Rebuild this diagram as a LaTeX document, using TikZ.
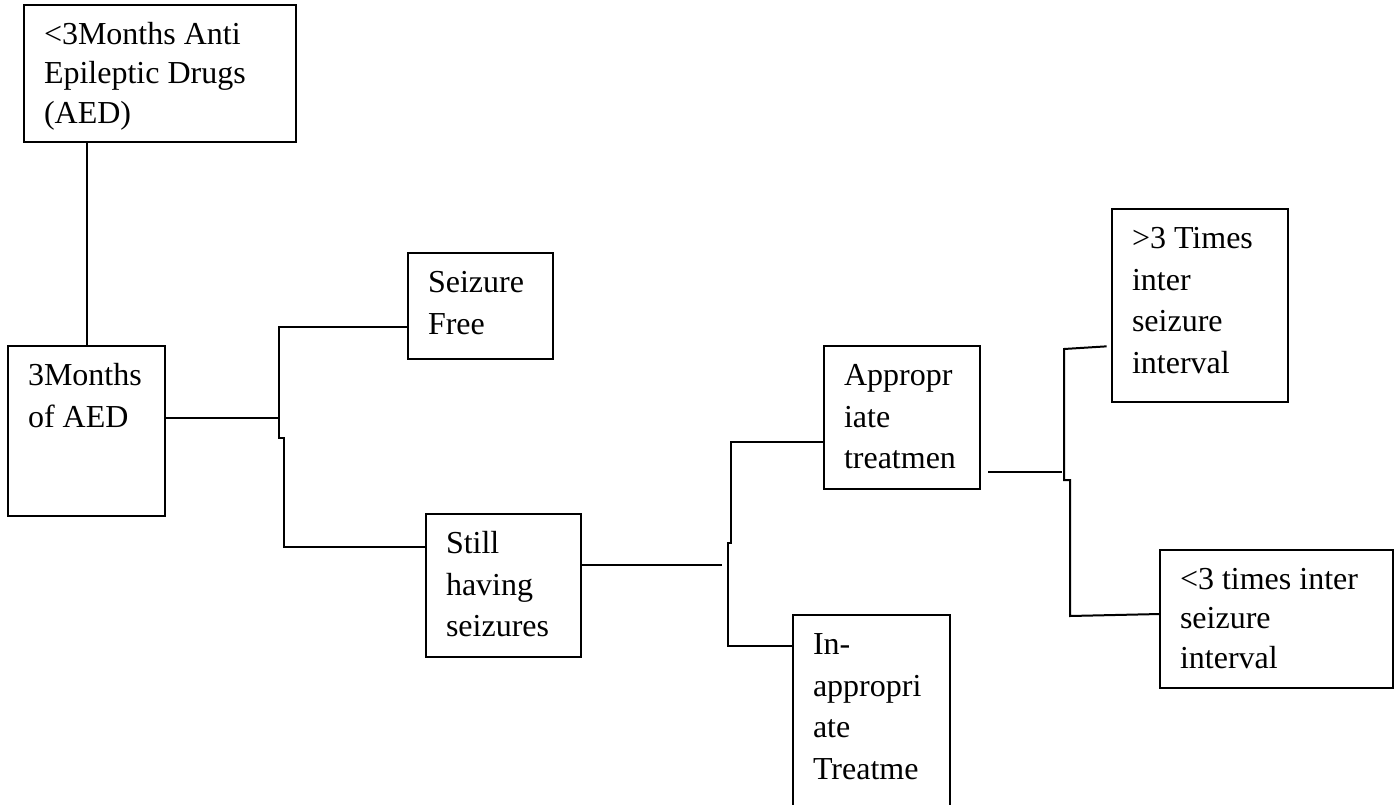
\documentclass[tikz,border=0pt]{standalone}
\usepackage{fontspec}
\setmainfont{Liberation Serif}
\usepackage{tikz}

\begin{document}
\begin{tikzpicture}[
  x=0.375pt, y=-0.375pt,
  box/.style={draw, line width=0.75pt, anchor=north west, align=flush left, inner xsep=7.5pt, inner ysep=0pt, outer sep=0pt, text height=14.8pt, font=\fontsize{12pt}{15.6pt}\selectfont},
  tight/.style={font=\fontsize{12pt}{14.8pt}\selectfont},
  link/.style={line width=0.75pt}
]
  \useasboundingbox (0,0) rectangle (1399,805);
  \clip (0,0) rectangle (1399,805);

  \node[box, tight, text width=87pt, text depth=36.6pt] (aed) at (24,5) {<3Months Anti\\Epileptic Drugs\\(AED)};
  \node[box, text width=44pt, text depth=48.9pt] (three) at (8,346) {3Months\\of AED};
  \node[box, text width=39.5pt, text depth=24.9pt] (free) at (408,253) {Seizure\\Free};
  \node[box, text width=43pt, text depth=38.8pt] (still) at (426,514) {Still\\having\\seizures};
  \node[box, text width=43.5pt, text depth=38.8pt] (approp) at (824,346) {Appropr\\iate\\treatmen};
  \node[box, text width=44pt, text depth=60.2pt] (inapp) at (793,615) {In-\\appropri\\ate\\Treatme};
  \node[box, text width=51pt, text depth=57.6pt] (gt3) at (1112,209) {>3 Times\\inter\\seizure\\interval};
  \node[box, tight, text width=72.4pt, text depth=36.9pt] (lt3) at (1160,550) {<3 times inter\\seizure\\interval};

  \draw[link] (three.north) -- (three.north |- aed.south);

  \coordinate (fork1) at (279,418);
  \draw[link] (three.east |- fork1) -- (fork1);
  \draw[link] (free.west |- 0,327) -- (279,327) -- (279,438) -- (284,438) -- (284,547) -- (still.west |- 0,547);

  \coordinate (fork2) at (722,565);
  \draw[link] (still.east |- fork2) -- (fork2);
  \draw[link] (approp.west |- 0,442) -- (731,442) -- (731,543) -- (728,543) -- (728,646) -- (inapp.west |- 0,646);

  \coordinate (fork3) at (1062,472);
  \draw[link, shorten <=3pt] (approp.east |- fork3) -- (fork3);
  \draw[link, shorten <=2pt] (gt3.west |- 0,346) -- (1064,349) -- (1064,480) -- (1070,480) -- (1070,616) -- (lt3.west |- 0,614);
\end{tikzpicture}
\end{document}
